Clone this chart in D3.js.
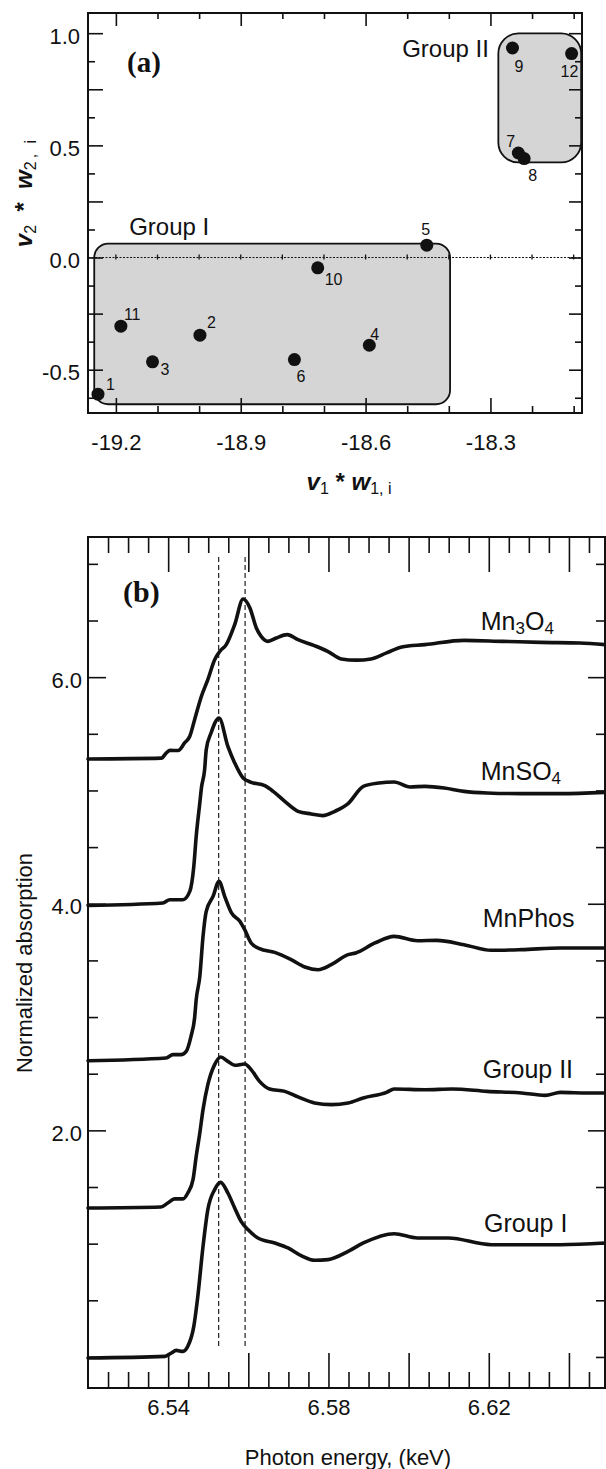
<!DOCTYPE html>
<html><head><meta charset="utf-8">
<script src="https://cdn.jsdelivr.net/npm/d3@7"></script>
<style>
html,body{margin:0;padding:0;background:#fff;}
svg{display:block;}
</style></head><body>
<svg id="chart" width="606" height="1469"></svg>
<script>
// ================= DATA =================
// Panel (a): sample scores
const sampleIds = ["1","2","3","4","5","6","7","8","9","10","11","12"];
const sampleX = [-19.243,-18.998,-19.112,-18.591,-18.453,-18.771,-18.233,-18.219,-18.247,-18.715,-19.188,-18.105];
const sampleY = [-0.609,-0.346,-0.465,-0.391,0.055,-0.455,0.466,0.441,0.934,-0.046,-0.306,0.909];
// group regions (data units)
const groupNames = ["Group I","Group II"];
const groupX0 = [-19.252,-18.281];
const groupX1 = [-18.397,-18.082];
const groupY0 = [-0.654,0.424];
const groupY1 = [0.062,0.999];
const groupLabelX = [-19.168,-18.512];
const groupLabelY = [0.099,0.893];
// axis ticks (a)
const aXMajor = [-19.2,-18.9,-18.6,-18.3];
const aXMinor = [-19.1,-19.0,-18.8,-18.7,-18.5,-18.4,-18.2,-18.1];
const aYLabeled = [-0.5,0,0.5,1.0];
const aYMajorOther = [-0.25,0.25,0.75];
const aYMinor = [-0.625,-0.375,-0.125,0.125,0.375,0.625,0.875];

// Panel (b): XANES spectra [energy keV, normalized absorption + offset]
const mn3o4 = [[6.5200,5.278],[6.5383,5.285],[6.5395,5.33],[6.5405,5.354],[6.5425,5.352],[6.5441,5.419],[6.5454,5.478],[6.5466,5.625],[6.5483,5.831],[6.5499,5.978],[6.5516,6.154],[6.5529,6.228],[6.5545,6.287],[6.5566,6.463],[6.5587,6.690],[6.5604,6.611],[6.5620,6.434],[6.5632,6.360],[6.5649,6.316],[6.5670,6.346],[6.5697,6.375],[6.5724,6.331],[6.5765,6.278],[6.5798,6.228],[6.5832,6.161],[6.5870,6.150],[6.5906,6.161],[6.5945,6.214],[6.5983,6.267],[6.6041,6.287],[6.6138,6.325],[6.6234,6.316],[6.6330,6.307],[6.6427,6.302],[6.6490,6.287]];
const mnso4 = [[6.5200,3.986],[6.5387,4.007],[6.5404,4.036],[6.5437,4.036],[6.5454,4.109],[6.5464,4.330],[6.5470,4.595],[6.5479,4.890],[6.5483,5.022],[6.5491,5.184],[6.5495,5.360],[6.5507,5.507],[6.5527,5.640],[6.5549,5.389],[6.5566,5.243],[6.5587,5.110],[6.5607,5.072],[6.5641,5.042],[6.5662,4.992],[6.5691,4.904],[6.5724,4.816],[6.5757,4.793],[6.5786,4.778],[6.5816,4.816],[6.5849,4.884],[6.5887,5.036],[6.5926,5.066],[6.5964,5.075],[6.6003,5.031],[6.6041,5.036],[6.6089,5.022],[6.6138,4.992],[6.6196,4.978],[6.6282,4.972],[6.6379,4.972],[6.6490,4.983]];
const mnphos = [[6.5200,2.615],[6.5395,2.639],[6.5412,2.668],[6.5432,2.668],[6.5445,2.697],[6.5457,2.830],[6.5466,2.992],[6.5470,3.154],[6.5479,3.359],[6.5487,3.712],[6.5495,3.933],[6.5512,4.065],[6.5527,4.198],[6.5541,4.065],[6.5558,3.919],[6.5579,3.845],[6.5591,3.771],[6.5607,3.654],[6.5628,3.604],[6.5666,3.571],[6.5707,3.507],[6.5741,3.442],[6.5774,3.418],[6.5807,3.462],[6.5849,3.551],[6.5868,3.566],[6.5916,3.654],[6.5964,3.712],[6.6022,3.674],[6.6070,3.677],[6.6138,3.639],[6.6206,3.589],[6.6282,3.595],[6.6379,3.610],[6.6490,3.610]];
const group2 = [[6.5200,1.315],[6.5382,1.324],[6.5399,1.359],[6.5416,1.395],[6.5437,1.395],[6.5449,1.447],[6.5462,1.565],[6.5470,1.771],[6.5479,1.977],[6.5487,2.183],[6.5499,2.403],[6.5516,2.580],[6.5531,2.648],[6.5549,2.609],[6.5566,2.574],[6.5591,2.586],[6.5607,2.536],[6.5628,2.432],[6.5653,2.365],[6.5691,2.344],[6.5724,2.295],[6.5765,2.242],[6.5807,2.227],[6.5849,2.242],[6.5887,2.286],[6.5945,2.335],[6.5964,2.365],[6.6041,2.359],[6.6109,2.365],[6.6196,2.344],[6.6282,2.330],[6.6341,2.309],[6.6379,2.335],[6.6447,2.330],[6.6490,2.330]];
const group1 = [[6.5200,-0.009],[6.5392,0.005],[6.5408,0.035],[6.5420,0.058],[6.5437,0.049],[6.5449,0.094],[6.5464,0.270],[6.5474,0.535],[6.5487,0.976],[6.5499,1.300],[6.5516,1.477],[6.5531,1.541],[6.5549,1.447],[6.5566,1.315],[6.5582,1.197],[6.5599,1.124],[6.5624,1.050],[6.5666,1.006],[6.5699,0.962],[6.5732,0.894],[6.5766,0.853],[6.5799,0.859],[6.5849,0.932],[6.5887,1.006],[6.5964,1.088],[6.6022,1.050],[6.6099,1.050],[6.6206,0.991],[6.6282,0.991],[6.6379,0.991],[6.6490,1.006]];
const seriesList = [mn3o4, mnso4, mnphos, group2, group1];
const seriesLabels = [["Mn","3","O","4"],["MnSO","4"],["MnPhos"],["Group II"],["Group I"]];
const seriesLabelE = [6.618,6.618,6.6185,6.6185,6.6188];
const seriesLabelV = [6.419,5.096,3.798,2.465,1.106];
const markerE = [6.5526,6.5592];
const markerRange = [0.07,7.06];
// axis ticks (b)
const bXLabeled = [6.54,6.58,6.62];
const bXMajorOther = [6.56,6.60,6.64];
const bXMinor = [6.525,6.53,6.535,6.545,6.55,6.555,6.565,6.57,6.575,6.585,6.59,6.595,6.605,6.61,6.615,6.625,6.63,6.635,6.645];
const bYLabeled = [2.0,4.0,6.0];
const bYMinor = [0,0.5,1.0,1.5,2.5,3.0,3.5,4.5,5.0,5.5,6.5,7.0];

// ================= LAYOUT =================
const FONT = '"Liberation Sans", Arial, Helvetica, sans-serif';
const SERIF = '"Liberation Serif", "Times New Roman", serif';
const INK = "#111";
const labelOffsets = {"1":[8,-4,"start"],"2":[7,-7,"start"],"3":[8,13,"start"],"4":[1,-5,"start"],
  "5":[-1,-10,"middle"],"6":[2,22,"start"],"7":[-12,-6,"start"],"8":[4,22,"start"],
  "9":[2,24,"start"],"10":[7,17,"start"],"11":[3,-6,"start"],"12":[-11,23,"start"]};

const svg = d3.select("#chart");

function addAxis(gen, transform, values, size, fmt, pad, fs, dy) {
  const g = svg.append("g").attr("transform", transform)
    .call(gen.tickValues(values).tickSize(size).tickPadding(pad)
      .tickFormat(fmt || (() => "")));
  g.select(".domain").remove();
  g.attr("font-size", fs || 22).attr("font-family", FONT);
  g.selectAll("line").attr("stroke", INK).attr("stroke-width", 1.6);
  g.selectAll("text").attr("fill", INK);
  if (dy) g.selectAll("text").attr("dy", dy);
  return g;
}

// ---------- Panel (a) ----------
const aL = 88, aR = 582, aT = 13, aB = 413;
const ax = d3.scaleLinear().domain([-19.267, -18.08]).range([aL, aR]);
const ay = d3.scaleLinear().domain([-0.693, 1.09]).range([aB, aT]);
const fmt1 = d => d.toFixed(1);

// group boxes
svg.append("g").selectAll("rect").data(groupNames).join("rect")
  .attr("x", (d,i) => ax(groupX0[i]))
  .attr("y", (d,i) => ay(groupY1[i]))
  .attr("width", (d,i) => ax(groupX1[i]) - ax(groupX0[i]))
  .attr("height", (d,i) => ay(groupY0[i]) - ay(groupY1[i]))
  .attr("rx", (d,i) => i === 0 ? 14 : 20)
  .attr("fill", "#d5d5d5").attr("stroke", INK).attr("stroke-width", 1.8);

// zero line with small ticks
svg.append("line").attr("x1", aL).attr("x2", aR).attr("y1", ay(0)).attr("y2", ay(0))
  .attr("stroke", INK).attr("stroke-width", 1.1).attr("stroke-dasharray", "2,1.5");
svg.append("g").selectAll("line").data(aXMajor.concat(aXMinor)).join("line")
  .attr("x1", d => ax(d)).attr("x2", d => ax(d))
  .attr("y1", ay(0) - 3).attr("y2", ay(0) + 2)
  .attr("stroke", INK).attr("stroke-width", 1.3);

// group labels
svg.append("g").selectAll("text").data(groupNames).join("text")
  .attr("x", (d,i) => ax(groupLabelX[i])).attr("y", (d,i) => ay(groupLabelY[i]))
  .attr("font-family", FONT).attr("font-size", 24).attr("fill", INK)
  .text(d => d);

// points
svg.append("g").selectAll("circle").data(sampleIds).join("circle")
  .attr("cx", (d,i) => ax(sampleX[i])).attr("cy", (d,i) => ay(sampleY[i]))
  .attr("r", 6.5).attr("fill", INK);
svg.append("g").selectAll("text").data(sampleIds).join("text")
  .attr("x", (d,i) => ax(sampleX[i]) + labelOffsets[d][0])
  .attr("y", (d,i) => ay(sampleY[i]) + labelOffsets[d][1])
  .attr("text-anchor", d => labelOffsets[d][2])
  .attr("font-family", FONT).attr("font-size", 16).attr("fill", INK)
  .text(d => d);

// axes (a)
addAxis(d3.axisBottom(ax), `translate(0,${aB})`, aXMajor, -15, fmt1, 21, 22);
addAxis(d3.axisBottom(ax), `translate(0,${aB})`, aXMinor, -7);
addAxis(d3.axisTop(ax), `translate(0,${aT})`, aXMajor, -13);
addAxis(d3.axisTop(ax), `translate(0,${aT})`, aXMinor, -6);
addAxis(d3.axisLeft(ay), `translate(${aL},0)`, aYLabeled, -15, fmt1, 8, 22, "0.46em");
addAxis(d3.axisLeft(ay), `translate(${aL},0)`, aYMajorOther, -15);
addAxis(d3.axisLeft(ay), `translate(${aL},0)`, aYMinor, -7);
addAxis(d3.axisRight(ay), `translate(${aR},0)`, aYLabeled.concat(aYMajorOther), -13);
addAxis(d3.axisRight(ay), `translate(${aR},0)`, aYMinor, -7);

svg.append("rect").attr("x", aL).attr("y", aT).attr("width", aR - aL).attr("height", aB - aT)
  .attr("fill", "none").attr("stroke", INK).attr("stroke-width", 2);

svg.append("text").attr("x", 127).attr("y", 72)
  .attr("font-family", SERIF).attr("font-weight", "bold").attr("font-size", 29).attr("fill", INK)
  .text("(a)");

// axis titles (a)
function varLabel(sel, a, b, spread) {
  sel.attr("font-family", FONT).attr("fill", INK).attr("text-anchor", "middle")
    .style("white-space", "pre");
  sel.append("tspan").attr("font-weight", "bold").attr("font-style", "italic").attr("font-size", 24).text("v");
  sel.append("tspan").attr("font-size", 16).attr("dy", 4).text(a);
  sel.append("tspan").attr("font-weight", "bold").attr("font-size", 24).attr("dy", -4).text(spread ? "  *  " : " * ");
  sel.append("tspan").attr("font-weight", "bold").attr("font-style", "italic").attr("font-size", 24).text("w");
  sel.append("tspan").attr("font-size", 16).attr("dy", 4)
    .attr("letter-spacing", spread ? 3 : 0).text(b);
}
varLabel(svg.append("text").attr("transform", "translate(349,490)"), "1", "1, i", false);
varLabel(svg.append("text").attr("transform", "translate(32,192) rotate(-90)"), "2", "2, i", true);

// ---------- Panel (b) ----------
const bL = 88, bR = 605, bT = 537, bB = 1388;
const bx = d3.scaleLinear().domain([6.52, 6.649]).range([bL, bR]);
const by = d3.scaleLinear().domain([-0.274, 7.237]).range([bB, bT]);

// dashed reference lines
svg.append("g").selectAll("line").data(markerE).join("line")
  .attr("x1", d => bx(d)).attr("x2", d => bx(d))
  .attr("y1", by(markerRange[1])).attr("y2", by(markerRange[0]))
  .attr("stroke", "#222").attr("stroke-width", 1.2).attr("stroke-dasharray", "5,3");

const line = d3.line().x(d => bx(d[0])).y(d => by(d[1])).curve(d3.curveMonotoneX);
svg.append("g").selectAll("path").data(seriesList).join("path")
  .attr("d", line).attr("fill", "none").attr("stroke", INK)
  .attr("stroke-width", 3.6).attr("stroke-linejoin", "round").attr("stroke-linecap", "round");

// series labels with subscripts
seriesLabels.forEach((parts, i) => {
  const t = svg.append("text").attr("x", bx(seriesLabelE[i])).attr("y", by(seriesLabelV[i]))
    .attr("font-family", FONT).attr("font-size", 25).attr("fill", INK);
  parts.forEach((p, j) => {
    const isSub = /^\d$/.test(p);
    const ts = t.append("tspan").text(p);
    if (isSub) ts.attr("font-size", 17).attr("dy", 4);
    else if (j > 0) ts.attr("dy", -4);
  });
});

// axes (b)
addAxis(d3.axisBottom(bx), `translate(0,${bB})`, bXLabeled, -35, d => d.toFixed(2), 11, 22);
addAxis(d3.axisBottom(bx), `translate(0,${bB})`, bXMajorOther, -35);
addAxis(d3.axisBottom(bx), `translate(0,${bB})`, bXMinor, -16);
addAxis(d3.axisTop(bx), `translate(0,${bT})`, bXLabeled.concat(bXMajorOther), -35);
addAxis(d3.axisTop(bx), `translate(0,${bT})`, bXMinor, -16);
addAxis(d3.axisLeft(by), `translate(${bL},0)`, bYLabeled, -18, fmt1, 6, 22, "0.46em");
addAxis(d3.axisLeft(by), `translate(${bL},0)`, bYMinor, -10);
addAxis(d3.axisRight(by), `translate(${bR},0)`, bYLabeled, -17);
addAxis(d3.axisRight(by), `translate(${bR},0)`, bYMinor, -9);

svg.append("rect").attr("x", bL).attr("y", bT).attr("width", bR - bL).attr("height", bB - bT)
  .attr("fill", "none").attr("stroke", INK).attr("stroke-width", 2);

svg.append("text").attr("x", 123).attr("y", 602)
  .attr("font-family", SERIF).attr("font-weight", "bold").attr("font-size", 30).attr("fill", INK)
  .text("(b)");

svg.append("text").attr("x", 348).attr("y", 1465).attr("text-anchor", "middle")
  .attr("font-family", FONT).attr("font-size", 22).attr("fill", INK)
  .text("Photon energy, (keV)");
svg.append("text").attr("transform", "translate(32,963) rotate(-90)").attr("text-anchor", "middle")
  .attr("font-family", FONT).attr("font-size", 22).attr("fill", INK)
  .text("Normalized absorption");
</script>
</body></html>
